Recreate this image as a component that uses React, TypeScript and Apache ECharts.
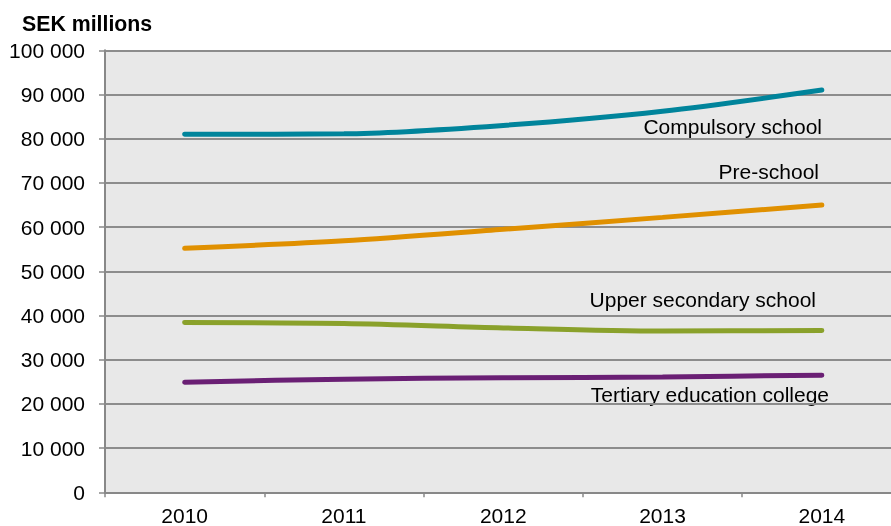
import React, { useEffect, useRef } from "react";
import * as echarts from "echarts";

const years = ["2010", "2011", "2012", "2013", "2014"];
const compulsory = [81000, 81100, 83000, 86200, 91000];
const preSchool = [55200, 56900, 59500, 62200, 65000];
const upperSecondary = [38400, 38200, 37200, 36500, 36600];
const tertiary = [24900, 25600, 25900, 26100, 26500];
const seriesNames = ["Compulsory school", "Pre-school", "Upper secondary school", "Tertiary education college"];
const seriesColors = ["#00849b", "#e09000", "#8aa12b", "#6a1f74"];

const FONT = "'Liberation Sans', Arial, sans-serif";

export default function App() {
  const ref = useRef<HTMLDivElement>(null);
  useEffect(() => {
    if (!ref.current) return;
    const chart = echarts.init(ref.current, undefined, { renderer: "svg" });
    const data = [compulsory, preSchool, upperSecondary, tertiary];
    const labelPos = [
      { right: 822, y: 126 },
      { right: 819, y: 171 },
      { right: 816, y: 299 },
      { right: 829, y: 394 },
    ];
    chart.setOption({
      animation: false,
      title: {
        text: "SEK millions",
        left: 17,
        top: 8,
        textStyle: { fontFamily: FONT, fontSize: 21.3, fontWeight: "bold", color: "#000" },
      },
      grid: {
        left: 105,
        top: 50.3,
        height: 442,
        width: 796.5,
        outerBoundsMode: "none",
        containLabel: false,
        show: true,
        backgroundColor: "#e8e8e8",
        borderWidth: 0,
      },
      xAxis: {
        type: "category",
        data: years,
        boundaryGap: true,
        axisLine: { lineStyle: { color: "#888", width: 2 } },
        axisTick: { show: true, length: 5, lineStyle: { color: "#888", width: 1.5 } },
        axisLabel: { fontFamily: FONT, fontSize: 21, color: "#000", margin: 13 },
        splitLine: { show: false },
      },
      yAxis: {
        type: "value",
        min: 0,
        max: 100000,
        interval: 10000,
        axisLine: { show: true, lineStyle: { color: "#888", width: 2 } },
        axisTick: { show: true, length: 6, lineStyle: { color: "#888", width: 1.5 } },
        axisLabel: {
          fontFamily: FONT,
          fontSize: 21,
          color: "#000",
          margin: 20,
          formatter: (v: number) => String(v).replace(/\B(?=(\d{3})+(?!\d))/g, " "),
        },
        splitLine: { show: true, lineStyle: { color: "#8c8c8c", width: 2 } },
      },
      series: data.map((d, i) => ({
        name: seriesNames[i],
        type: "line",
        data: d,
        smooth: 0.3,
        symbol: "none",
        lineStyle: { color: seriesColors[i], width: 5, cap: "round" },
        itemStyle: { color: seriesColors[i] },
      })),
      graphic: labelPos.map((p, i) => ({
        type: "text",
        x: p.right,
        y: p.y,
        style: {
          text: seriesNames[i],
          fontFamily: FONT,
          fontSize: 21,
          fill: "#000",
          align: "right",
          verticalAlign: "middle",
        },
      })),
    });
    return () => chart.dispose();
  }, []);
  return <div ref={ref} style={{ position: "fixed", left: 0, top: 0, width: 891, height: 526 }} />;
}
